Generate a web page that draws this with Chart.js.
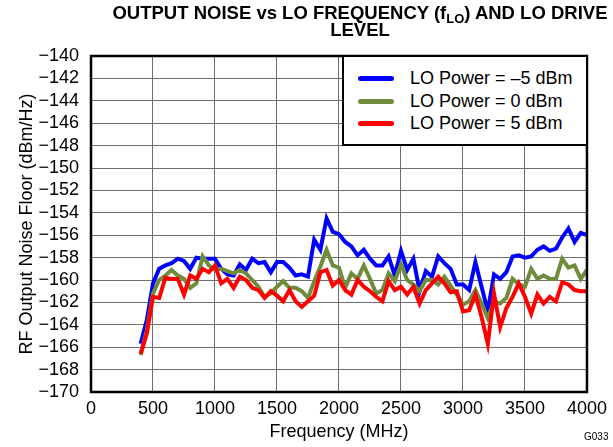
<!DOCTYPE html>
<html>
<head>
<meta charset="utf-8">
<script src="https://cdn.jsdelivr.net/npm/chart.js@4.4.0/dist/chart.umd.min.js"></script>
<style>
  body { margin: 0; background: #fff; overflow: hidden; font-family: "Liberation Sans", Arial, sans-serif; }
  #wrap { position: relative; width: 613px; height: 447px; }
  #titulo { position: absolute; left: 100px; width: 520px; top: 4px; text-align: center; font-weight: bold; font-size: 18.5px; line-height: 17px; color: #000; }
  #titulo sub { font-size: 13px; line-height: 0; vertical-align: -4px; }
  #leyenda { position: absolute; left: 342px; top: 55px; width: 242px; height: 87px; border: 2px solid #000; background: #fff; }
  .item { position: absolute; left: 14px; height: 22px; font-size: 18px; line-height: 22px; color: #000; }
  .item span.linea { position: absolute; left: 0; top: 9px; width: 36px; height: 5px; border-radius: 3px; }
  .item span.txt { position: absolute; left: 52px; white-space: nowrap; }
  #codigo { position: absolute; left: 584px; top: 431px; font-size: 10px; color: #000; }
</style>
</head>
<body>
<div id="wrap">
  <canvas id="grafico" width="613" height="447"></canvas>
  <div id="titulo">OUTPUT NOISE vs LO FREQUENCY (f<sub>LO</sub>) AND LO DRIVE<br>LEVEL</div>
  <div id="leyenda"></div>
  <div id="codigo">G033</div>
</div>
<script>
const frecuencias = [
  400, 450, 500, 550, 600, 650, 700, 750, 800, 850,
  900, 950, 1000, 1050, 1100, 1150, 1200, 1250, 1300, 1350,
  1400, 1450, 1500, 1550, 1600, 1650, 1700, 1750, 1800, 1850,
  1900, 1950, 2000, 2050, 2100, 2150, 2200, 2250, 2300, 2350,
  2400, 2450, 2500, 2550, 2600, 2650, 2700, 2750, 2800, 2850,
  2900, 2950, 3000, 3050, 3100, 3150, 3200, 3250, 3300, 3350,
  3400, 3450, 3500, 3550, 3600, 3650, 3700, 3750, 3800, 3850,
  3900, 3950, 4000
];

// LO Power = -5 dBm
const ruidoMenos5 = [
  -165.7, -163.6, -160.3, -159.0, -158.7, -158.5, -158.1, -158.3, -159.0, -158.0,
  -158.1, -158.1, -158.1, -159.0, -159.5, -159.6, -158.6, -159.1, -158.1, -158.5,
  -158.4, -159.3, -158.4, -158.4, -158.9, -159.6, -159.5, -159.7, -156.4, -157.3,
  -154.5, -155.7, -155.9, -156.6, -157.0, -157.8, -157.3, -158.1, -158.7, -158.7,
  -157.9, -159.6, -157.4, -159.1, -158.1, -161.0, -159.2, -159.7, -157.9, -158.5,
  -159.0, -160.4, -160.4, -160.9, -158.4, -160.6, -162.8, -159.5, -159.9, -159.3,
  -157.9, -157.8, -158.0, -157.9, -157.3, -157.0, -157.4, -157.2, -156.2, -155.4,
  -156.6, -155.8, -156.0
];

// LO Power = 0 dBm
const ruido0 = [
  -166.7, -164.5, -161.2, -160.0, -159.6, -159.1, -159.6, -159.9, -160.7, -160.3,
  -157.9, -158.7, -159.1, -159.0, -159.2, -159.4, -159.1, -159.4, -160.0, -160.6,
  -161.5, -161.2, -160.6, -160.1, -160.7, -160.7, -161.0, -161.6, -160.1, -158.8,
  -157.3, -158.7, -158.9, -160.7, -159.4, -159.9, -158.7, -159.9, -161.2, -160.9,
  -159.4, -160.1, -158.6, -160.0, -160.4, -161.0, -160.0, -160.0, -160.4, -159.7,
  -160.5, -161.3, -162.2, -161.9, -160.9, -162.1, -163.4, -161.9, -162.1, -161.6,
  -159.9, -160.4, -160.6, -159.0, -159.9, -159.6, -159.9, -159.9, -158.1, -158.9,
  -158.7, -159.9, -159.1
];

// LO Power = 5 dBm
const ruidoMas5 = [
  -166.6, -164.8, -161.5, -161.6, -159.8, -159.9, -159.9, -161.3, -159.6, -159.9,
  -159.0, -159.3, -158.7, -160.3, -159.9, -160.7, -159.7, -160.0, -160.7, -160.9,
  -161.6, -161.0, -161.4, -161.9, -160.9, -161.9, -162.4, -161.9, -161.4, -159.3,
  -159.1, -160.5, -160.0, -160.9, -161.3, -160.0, -160.6, -161.0, -161.5, -161.9,
  -160.1, -160.9, -160.6, -161.3, -160.6, -162.1, -160.9, -160.3, -159.7, -160.3,
  -161.1, -161.0, -162.8, -162.7, -161.3, -163.3, -165.7, -161.2, -164.2, -162.5,
  -161.5, -160.3, -161.5, -163.0, -161.3, -162.1, -161.5, -161.9, -160.2, -160.4,
  -160.9, -161.0, -161.0
];

const etiquetas = ["LO Power = –5 dBm", "LO Power = 0 dBm", "LO Power = 5 dBm"];
const colores = ["#0000ff", "#6f8c3c", "#ff0000"];
const series = [ruidoMenos5, ruido0, ruidoMas5];

const fuente = "'Liberation Sans', Arial, sans-serif";

function aPuntos(valores) {
  return valores.map((v, i) => ({ x: frecuencias[i], y: v }));
}

// marco negro alrededor del area del grafico
const marco = {
  id: "marco",
  afterDraw(chart) {
    const { ctx, chartArea: a } = chart;
    ctx.save();
    ctx.strokeStyle = "#000";
    ctx.lineWidth = 2.5;
    ctx.strokeRect(a.left, a.top, a.right - a.left, a.bottom - a.top);
    ctx.restore();
  }
};

const datasets = series.map((s, i) => ({
  label: etiquetas[i],
  data: aPuntos(s),
  borderColor: colores[i],
  backgroundColor: colores[i],
  borderWidth: 4,
  pointRadius: 0,
  tension: 0,
  order: 3 - i
}));

const chart = new Chart(document.getElementById("grafico").getContext("2d"), {
  type: "line",
  data: { datasets },
  options: {
    responsive: false,
    animation: false,
    devicePixelRatio: 1,
    layout: { padding: { top: 56, right: 25, left: 0, bottom: 0 } },
    plugins: {
      legend: { display: false },
      title: { display: false },
      tooltip: { enabled: false }
    },
    scales: {
      x: {
        type: "linear",
        min: 0,
        max: 4000,
        afterFit: (scale) => { scale.height = 55; },
        ticks: {
          stepSize: 500,
          autoSkip: false,
          color: "#000",
          padding: 6,
          maxRotation: 0,
          font: { family: fuente, size: 18 },
          callback: (v) => String(v)
        },
        grid: { color: "#6e6e6e", lineWidth: 1, drawTicks: false },
        border: { display: false },
        title: {
          display: true,
          text: "Frequency (MHz)",
          color: "#000",
          padding: { top: 0, bottom: 4 },
          font: { family: fuente, size: 18 }
        }
      },
      y: {
        min: -170,
        max: -140,
        afterFit: (scale) => { scale.width = 91; },
        ticks: {
          stepSize: 2,
          autoSkip: false,
          color: "#000",
          padding: 12,
          font: { family: fuente, size: 18 },
          callback: (v) => String(v).replace("-", "\u2212")
        },
        grid: { color: "#6e6e6e", lineWidth: 1, drawTicks: false },
        border: { display: false },
        title: {
          display: true,
          text: "RF Output Noise Floor (dBm/Hz)",
          color: "#000",
          padding: { top: 16, bottom: 0 },
          font: { family: fuente, size: 18 }
        }
      }
    }
  },
  plugins: [marco]
});

// leyenda en html dentro del area
const leyenda = document.getElementById("leyenda");
chart.data.datasets.forEach((ds, i) => {
  const item = document.createElement("div");
  item.className = "item";
  item.style.top = (10 + i * 22.5) + "px";
  item.innerHTML = `<span class="linea" style="background:${ds.borderColor}"></span><span class="txt">${ds.label}</span>`;
  leyenda.appendChild(item);
});
</script>
</body>
</html>
